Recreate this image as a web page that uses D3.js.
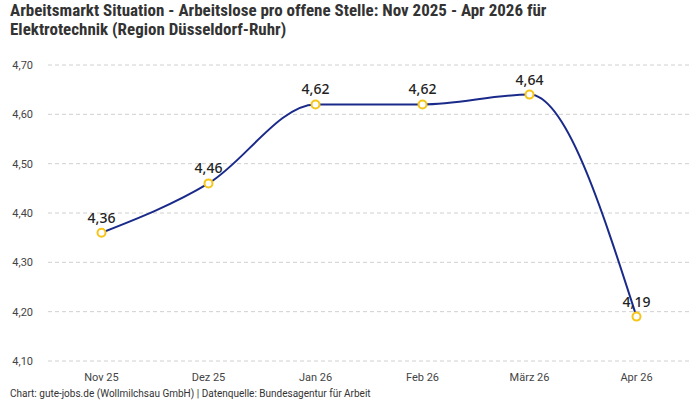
<!DOCTYPE html>
<html>
<head>
<meta charset="utf-8">
<script src="https://cdn.jsdelivr.net/npm/d3@7"></script>
<style>
  body { margin: 0; background: #fff; }
  svg { display: block; font-family: 'Liberation Sans Narrow', 'Roboto', sans-serif; }
</style>
</head>
<body>
<svg id="chart"></svg>
<script>
const months = ['Nov 25', 'Dez 25', 'Jan 26', 'Feb 26', 'März 26', 'Apr 26']
const values = [4.36, 4.46, 4.62, 4.62, 4.64, 4.19]
const yTicks = [4.1, 4.2, 4.3, 4.4, 4.5, 4.6, 4.7]

const width = 700
const height = 400
const margin = { top: 65, right: 10, bottom: 39, left: 48 }

const fmt = v => v.toFixed(2).replace('.', ',')

const svg = d3.select('#chart')
  .attr('width', width)
  .attr('height', height)

// Title, two lines
const titleLines = [
  'Arbeitsmarkt Situation - Arbeitslose pro offene Stelle: Nov 2025 - Apr 2026 für',
  'Elektrotechnik (Region Düsseldorf-Ruhr)'
]
svg.append('g')
  .selectAll('text')
  .data(titleLines)
  .enter().append('text')
  .attr('x', 10)
  .attr('y', (d, i) => 16 + i * 19)
  .attr('font-family', "'Roboto Condensed', 'Liberation Sans Narrow', sans-serif")
  .attr('font-size', '17px').attr('font-weight', 'bold').attr('fill', '#333')
  .text(d => d)

const x = d3.scalePoint()
  .domain(months)
  .range([margin.left, width - margin.right])
  .padding(0.5)

const y = d3.scaleLinear()
  .domain([4.1, 4.7])
  .range([height - margin.bottom, margin.top])

// Gridlines
svg.append('g')
  .selectAll('line')
  .data(yTicks)
  .enter().append('line')
  .attr('x1', margin.left)
  .attr('x2', width - margin.right)
  .attr('y1', d => y(d))
  .attr('y2', d => y(d))
  .attr('stroke', '#d0d0d0')
  .attr('stroke-dasharray', '4,3')

// Y tick labels
svg.append('g')
  .selectAll('text')
  .data(yTicks)
  .enter().append('text')
  .attr('x', 33)
  .attr('y', d => y(d))
  .attr('dy', '0.35em')
  .attr('text-anchor', 'end')
  .attr('font-size', '11px')
  .attr('fill', '#444')
  .text(fmt)

// X tick labels
svg.append('g')
  .selectAll('text')
  .data(months)
  .enter().append('text')
  .attr('x', d => x(d))
  .attr('y', 381)
  .attr('text-anchor', 'middle')
  .attr('font-size', '11px')
  .attr('fill', '#444')
  .text(d => d)

const data = months.map((m, i) => ({ m, v: values[i] }))

// Line
svg.append('path')
  .datum(data)
  .attr('fill', 'none')
  .attr('stroke', '#1a2a8a')
  .attr('stroke-width', 2)
  .attr('d', d3.line()
    .x(d => x(d.m))
    .y(d => y(d.v))
    .curve(d3.curveMonotoneX))

// Points
svg.append('g')
  .selectAll('circle')
  .data(data)
  .enter().append('circle')
  .attr('cx', d => x(d.m))
  .attr('cy', d => y(d.v))
  .attr('r', 4)
  .attr('fill', '#fff')
  .attr('stroke', '#f5c518')
  .attr('stroke-width', 2)

// Value labels
svg.append('g')
  .selectAll('text')
  .data(data)
  .enter().append('text')
  .attr('x', d => x(d.m))
  .attr('y', d => y(d.v) - 10)
  .attr('text-anchor', 'middle')
  .attr('font-family', "'Noto Sans', sans-serif")
  .attr('font-size', '14px')
  .attr('font-weight', 500)
  .attr('fill', '#222')
  .text(d => fmt(d.v))

// Footer
svg.append('text')
  .attr('x', 10).attr('y', 397)
  .attr('font-size', '10px')
  .attr('fill', '#333')
  .text('Chart: gute-jobs.de (Wollmilchsau GmbH) | Datenquelle: Bundesagentur für Arbeit')
</script>
</body>
</html>
